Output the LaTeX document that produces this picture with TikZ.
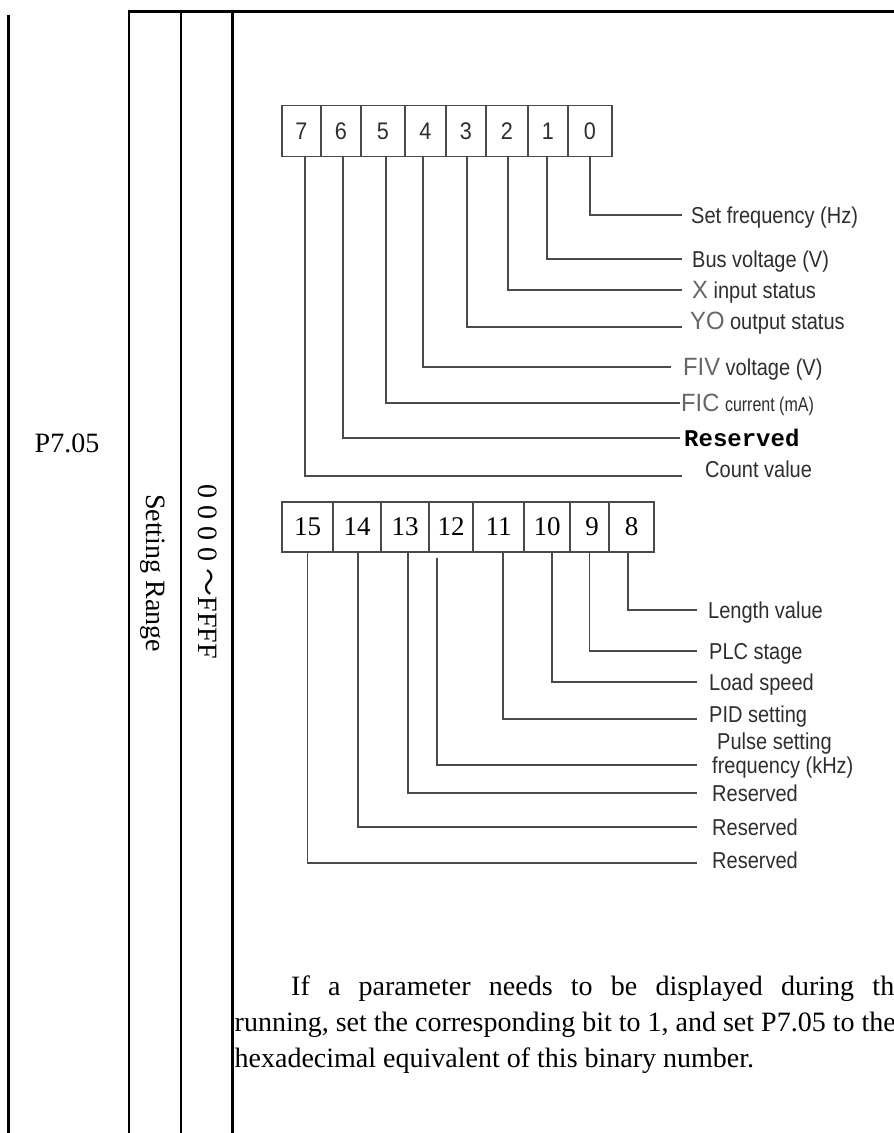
\documentclass[tikz,border=0pt]{standalone}
\usepackage{fontspec}
\setmainfont{Liberation Serif}
\newfontfamily\labfont[FakeStretch=0.87]{Liberation Sans}
\newfontfamily\narrowfont[FakeStretch=0.8]{Liberation Sans}
\newfontfamily\bigletfont[FakeStretch=0.95]{Liberation Sans}
\newfontfamily\monofam{Liberation Mono}
\newfontfamily\cjkfont{Noto Sans CJK SC}
\newfontfamily\digfont[FakeStretch=0.9]{Liberation Sans}
\definecolor{ink}{HTML}{2E2E2E}
\definecolor{wire}{HTML}{4A4A4A}
\newcommand{\BigLet}[1]{{\bigletfont\fontsize{25}{25}\selectfont\color{black!60}#1}}
\newcommand{\SmallLab}[1]{{\narrowfont\fontsize{20}{20}\selectfont #1}}
\tikzset{
  tab/.style={line width=2.6pt, draw=black},
  cell/.style={draw=wire, line width=1.6pt, inner sep=0pt, minimum height=51pt},
  topdig/.style={cell, font=\digfont\fontsize{24}{24}\selectfont, text=ink},
  botdig/.style={cell, minimum height=50pt, font=\fontsize{27}{27}\selectfont, text=black},
  lab/.style={anchor=west, inner ysep=0pt, inner xsep=10pt, text height=16.5pt, text depth=0pt,
              font=\labfont\fontsize{23}{23}\selectfont, text=ink},
  lead/.style={draw=wire, line width=1.6pt},
  body/.style={font=\fontsize{28}{34}\selectfont, inner sep=0pt, text=black}
}
\begin{document}
\begin{tikzpicture}[x=1pt,y=-1pt]
\useasboundingbox[fill=white] (0,0) rectangle (894,1133);

% table frame
\draw[tab] (8.5,15) -- (8.5,1133);
\draw[tab] (127.7,11.5) -- (894,11.5);
\draw[tab] (129,11.5) -- (129,1133);
\draw[tab] (181,11.5) -- (181,1133);
\draw[tab] (232.5,11.5) -- (232.5,1133);

% table texts
\node[body] (p705) at (67,443) {P7.05};
\node[body, rotate=-90] (srange) at (153,573) {Setting Range};
\node[body, rotate=-90] (range) at (208,572) {0 0 0 0 {\cjkfont ～}FFFF};

% upper register (bits 7..0)
\node[topdig, minimum width=39pt] (b7) at (301.5,131) {7};
\node[topdig, minimum width=40pt] (b6) at (341,131) {6};
\node[topdig, minimum width=44pt] (b5) at (383,131) {5};
\node[topdig, minimum width=41pt] (b4) at (425.5,131) {4};
\node[topdig, minimum width=40pt] (b3) at (466,131) {3};
\node[topdig, minimum width=42pt] (b2) at (507,131) {2};
\node[topdig, minimum width=40pt] (b1) at (548,131) {1};
\node[topdig, minimum width=44pt] (b0) at (590,131) {0\hspace{16pt}};

\node[lab, inner xsep=9pt] (l0) at (682,215) {Set frequency (Hz)};
\node[lab] (l1) at (682,259) {Bus voltage (V)};
\node[lab] (l2) at (682,290) {\BigLet{X} input status};
\node[lab, inner xsep=8pt] (l3) at (682,327) {\raisebox{6pt}{\BigLet{YO} output status}};
\node[lab, inner xsep=12pt] (l4) at (671,367) {\BigLet{FIV} voltage (V)};
\node[lab, inner xsep=1pt] (l5) at (680,403) {\BigLet{FIC} \SmallLab{current (mA)}};
\node[lab, inner xsep=4pt, font=\monofam\bfseries\fontsize{24}{24}\selectfont, text=black] (l6) at (680,438) {Reserved};
\node[lab, inner xsep=23pt] (l7) at (682,476) {\raisebox{7pt}{Count value}};

\draw[lead] (b0.south) |- (l0.west);
\draw[lead] ([xshift=-1pt]b1.south) |- (l1.west);
\draw[lead] ([xshift=1pt]b2.south) |- (l2.west);
\draw[lead] ([xshift=1pt]b3.south) |- (l3.west);
\draw[lead] ([xshift=-2.5pt]b4.south) |- (l4.west);
\draw[lead] ([xshift=3pt]b5.south) |- (l5.west);
\draw[lead] ([xshift=2pt]b6.south) |- (l6.west);
\draw[lead] ([xshift=3.5pt]b7.south) |- (l7.west);

% lower register (bits 15..8)
\node[botdig, minimum width=51pt] (b15) at (307.5,527) {15};
\node[botdig, minimum width=48pt] (b14) at (357,527) {14};
\node[botdig, minimum width=48pt] (b13) at (405,527) {13\hspace{16pt}};
\node[botdig, minimum width=44pt] (b12) at (451,527) {12\hspace{12pt}};
\node[botdig, minimum width=51pt] (b11) at (498.5,527) {11\hspace{7pt}};
\node[botdig, minimum width=46pt] (b10) at (547,527) {10};
\node[botdig, minimum width=39pt] (b9) at (589.5,527) {\hspace{5pt}9};
\node[botdig, minimum width=45pt] (b8) at (631.5,527) {8\hspace{9pt}};

\node[lab, inner xsep=11pt] (l8) at (697,610) {Length value};
\node[lab, inner xsep=12pt] (l9) at (697,651) {PLC stage};
\node[lab, inner xsep=12pt] (l10) at (697,682) {Load speed};
\node[lab, inner xsep=12pt] (l11) at (697,719) {\raisebox{5pt}{PID setting}};
\node[lab, inner xsep=15pt] (l12) at (697,765) {frequency (kHz)};
\node[lab, inner xsep=0pt] (l12b) at (717,741) {Pulse setting};
\node[lab, inner xsep=15pt] (l13) at (697,793) {Reserved};
\node[lab, inner xsep=15pt] (l14) at (697,827) {Reserved};
\node[lab, inner xsep=15pt] (l15) at (697,863) {\raisebox{3pt}{Reserved}};

\draw[lead] ([xshift=-3.5pt]b8.south) |- (l8.west);
\draw[lead] (b9.south) |- (l9.west);
\draw[lead] ([xshift=5pt]b10.south) |- (l10.west);
\draw[lead] ([xshift=4.5pt]b11.south) |- (l11.west);
\draw[lead] ([xshift=-14pt,yshift=-5pt]b12.south) |- (l12.west);
\draw[lead] ([xshift=3pt]b13.south) |- (l13.west);
\draw[lead] ([xshift=1pt]b14.south) |- (l14.west);
\draw[lead] (b15.south) |- (l15.west);

% explanation
\node[body, anchor=base west] (para1) at (291,995) {\makebox[603pt][s]{If a parameter needs to be displayed during th}};
\node[body, anchor=base west] (para2) at (234.5,1031) {running, set the corresponding bit to 1, and set P7.05 to the};
\node[body, anchor=base west] (para3) at (234.5,1067) {hexadecimal equivalent of this binary number.};
\end{tikzpicture}
\end{document}
